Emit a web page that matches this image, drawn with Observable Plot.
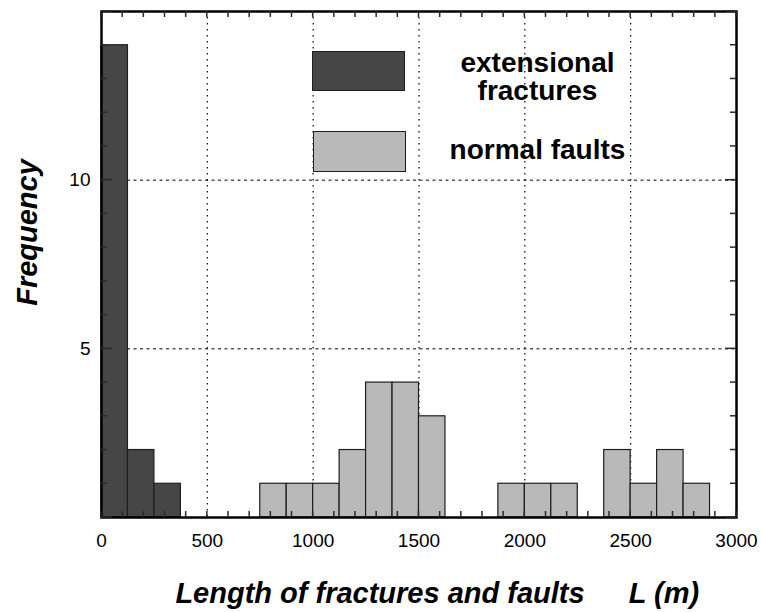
<!DOCTYPE html>
<html>
<head>
<meta charset="utf-8">
<script src="https://cdn.jsdelivr.net/npm/d3@7"></script>
<script src="https://cdn.jsdelivr.net/npm/@observablehq/plot@0.6"></script>
<style>
  html, body { margin: 0; padding: 0; background: white; }
  #chart { position: relative; width: 761px; height: 612px; }
  .swatch { position: absolute; box-sizing: border-box; border: 1.5px solid #1e1e1e; }
</style>
</head>
<body>
<div id="chart"></div>
<script>
// ---- data ----
const binWidth = 125;
const extStarts = [0, 125, 250];
const extCounts = [14, 2, 1];
const faultStarts = [750, 875, 1000, 1125, 1250, 1375, 1500, 1875, 2000, 2125, 2375, 2500, 2625, 2750];
const faultCounts = [1, 1, 1, 2, 4, 4, 3, 1, 1, 1, 2, 1, 2, 1];
const xTicks = [0, 500, 1000, 1500, 2000, 2500, 3000];
const yTicks = [5, 10];
const xGrid = [500, 1000, 1500, 2000, 2500];
const legendLines = ["extensional", "fractures", "normal faults"];
const seriesColors = ["#464646", "#b9b9b9"];

const ext = extStarts.map((s, i) => ({x1: s, x2: s + binWidth, y: extCounts[i]}));
const faults = faultStarts.map((s, i) => ({x1: s, x2: s + binWidth, y: faultCounts[i]}));

const font = "'Liberation Sans', Arial, Helvetica, sans-serif";
const minorX = d3.range(0, 3001, 100);
const minorY = d3.range(0, 16, 1);
const majorY = [0, 5, 10, 15];

const titleStyle = {fontSize: 29, fontWeight: "bold", fontStyle: "italic", fill: "black", textAnchor: "middle", lineAnchor: "middle"};
const legendStyle = {fontSize: 28, fontWeight: "bold", fill: "black", textAnchor: "middle", lineAnchor: "middle", frameAnchor: "top-left"};

const plot = Plot.plot({
  width: 761,
  height: 612,
  marginLeft: 101,
  marginRight: 25,
  marginTop: 11,
  marginBottom: 95,
  style: {fontFamily: font, background: "white", color: "black"},
  x: {domain: [0, 3000]},
  y: {domain: [0, 15]},
  marks: [
    Plot.ruleX(xGrid, {stroke: "black", strokeWidth: 1.2, strokeDasharray: "1.5,4.5"}),
    Plot.ruleY(yTicks, {stroke: "black", strokeWidth: 1, strokeDasharray: "3,3.5"}),
    Plot.rectY(ext, {x1: "x1", x2: "x2", y: "y", fill: seriesColors[0], stroke: "#1e1e1e", strokeWidth: 1.2}),
    Plot.rectY(faults, {x1: "x1", x2: "x2", y: "y", fill: seriesColors[1], stroke: "#1e1e1e", strokeWidth: 1.2}),
    // tick labels
    Plot.axisX({anchor: "bottom", ticks: xTicks, tickSize: 0, tickPadding: 16, fontSize: 19, tickFormat: d => `${d}`, label: null}),
    Plot.axisY({anchor: "left", ticks: yTicks, tickSize: 0, tickPadding: 11, fontSize: 19, tickFormat: d => `${d}`, label: null}),
    Plot.frame({stroke: "black", strokeWidth: 2.5}),
    // axis titles
    Plot.text(["Length of fractures and faults"], {...titleStyle, frameAnchor: "bottom", dx: -39, dy: 76}),
    Plot.text(["L (m)"], {...titleStyle, frameAnchor: "bottom", dx: 245, dy: 76}),
    Plot.text(["Frequency"], {...titleStyle, frameAnchor: "left", dx: -74, dy: -32, rotate: -90}),
    // legend labels
    Plot.text([legendLines[0]], {...legendStyle, dx: 436, dy: 51.5}),
    Plot.text([legendLines[1]], {...legendStyle, dx: 436, dy: 80}),
    Plot.text([legendLines[2]], {...legendStyle, dx: 436, dy: 139})
  ]
});

const chart = document.getElementById("chart");
chart.appendChild(plot);

// inner frame ticks, positioned with the plot's own scales
const xs = plot.scale("x"), ys = plot.scale("y");
const [fx0, fx1] = xs.range, [fy0, fy1] = ys.range; // fy0 = bottom, fy1 = top
const g = d3.select(plot).append("g").attr("stroke", "#2a2a2a").attr("stroke-width", 1.5);
for (const v of minorX) {
  const px = xs.apply(v);
  g.append("line").attr("x1", px).attr("x2", px).attr("y1", fy0).attr("y2", fy0 - 6);
  g.append("line").attr("x1", px).attr("x2", px).attr("y1", fy1).attr("y2", fy1 + 6);
}
for (const v of minorY) {
  const py = ys.apply(v);
  const len = majorY.includes(v) ? 11 : 6;
  g.append("line").attr("y1", py).attr("y2", py).attr("x1", fx0).attr("x2", fx0 + len);
  g.append("line").attr("y1", py).attr("y2", py).attr("x1", fx1).attr("x2", fx1 - len);
}

// legend swatches
const sw = [
  {left: 312, top: 51, width: 93, height: 40, color: seriesColors[0]},
  {left: 313, top: 131, width: 93, height: 41, color: seriesColors[1]}
];
for (const s of sw) {
  const d = document.createElement("div");
  d.className = "swatch";
  Object.assign(d.style, {left: s.left + "px", top: s.top + "px", width: s.width + "px", height: s.height + "px", background: s.color});
  chart.appendChild(d);
}
</script>
</body>
</html>
